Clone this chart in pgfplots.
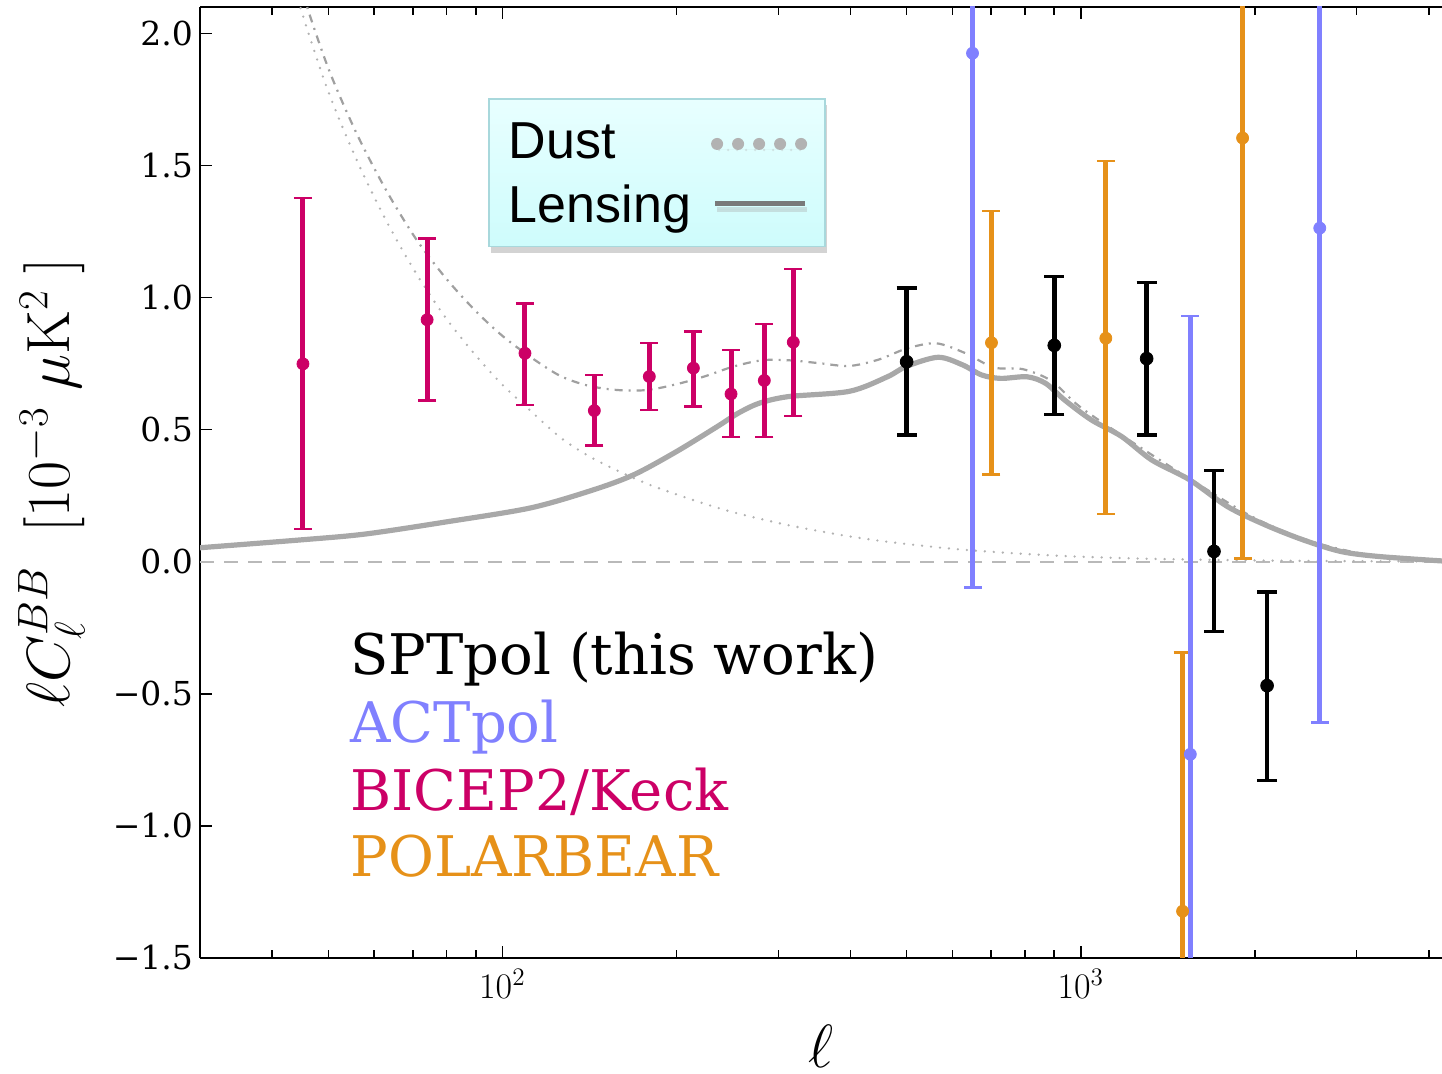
\RequirePackage{fix-cm}
\documentclass[border=0pt]{standalone}
\usepackage[no-math]{fontspec}
\setmainfont{DejaVu Serif}
\newfontfamily\legfont{Liberation Sans}
\usepackage{pgfplots}
\pgfplotsset{compat=1.18}
\usetikzlibrary{shadows}
\definecolor{bkmag}{RGB}{204,0,102}
\definecolor{actblue}{RGB}{128,128,255}
\definecolor{pborange}{RGB}{230,145,25}
\definecolor{lensgray}{RGB}{168,168,168}
\definecolor{dustgray}{RGB}{178,178,178}
\definecolor{sumgray}{RGB}{160,160,160}
\definecolor{zerogray}{RGB}{185,185,185}
\definecolor{legtop}{RGB}{232,255,255}
\definecolor{legbot}{RGB}{206,252,252}
\definecolor{legborder}{RGB}{168,216,220}

\begin{document}
\begin{tikzpicture}
\begin{axis}[
  scale only axis, width=621pt, height=475.5pt,
  xmode=log, xmin=30, xmax=4214, ymin=-1.5, ymax=2.1,
  axis x line*=box, axis y line*=left,
  axis line style={-, line width=1pt, black},
  tick align=inside,
  major tick length=6pt, minor tick length=4pt,
  tick style={black, line width=0.8pt},
  xtick={100,1000}, xticklabels={$10^{2}$,$10^{3}$},
  minor xtick={40,50,60,70,80,90,200,300,400,500,600,700,800,900,2000,3000,4000},
  ytick={-1.5,-1,-0.5,0,0.5,1,1.5,2},
  yticklabels={−1.5,−1.0,−0.5,0.0,0.5,1.0,1.5,2.0},
  yticklabel style={font=\fontsize{16.5}{18}\selectfont},
  xticklabel style={font=\fontsize{18}{20}\selectfont, yshift=-2pt},
  xlabel={$\ell$},
  ylabel={$\ell C_\ell^{BB}\;\;[10^{-3}\;\mu\mathrm{K}^2\;]$},
  label style={font=\fontsize{30.5}{34}\selectfont},
  xlabel style={at={(axis description cs:0.5,0)}, anchor=center, inner sep=0pt, yshift=-44pt},
  ylabel style={at={(axis description cs:-0.1196,0.5)}, anchor=center},
  legend plot pos=right,
  legend cell align=left,
  legend style={at={(rel axis cs:0.232,0.904)}, anchor=north west,
    draw=legborder, line width=0.8pt, top color=legtop, bottom color=legbot,
    drop shadow={shadow xshift=1pt, shadow yshift=-3pt, opacity=0.35},
    font=\legfont\fontsize{26}{30}\selectfont,
    inner xsep=8pt, inner ysep=10pt, row sep=9pt,
    nodes={text depth=0pt},
    /tikz/every odd column/.append style={column sep=8pt}},
]
% zero line
\addplot[forget plot, zerogray, line width=1pt, dash pattern=on 7pt off 5pt] coordinates {(30,0) (4214,0)};

% dust
\addplot[dustgray, line width=1.3pt, line cap=round, dash pattern=on 0pt off 4.5pt, smooth,
  legend image code/.code={\draw[dustgray, line width=6pt, line cap=round, dash pattern=on 0pt off 10.5pt] (3pt,-1.5pt) -- (46pt,-1.5pt);}]
coordinates {
(35,2.95) (40,2.46) (45,2.08) (50,1.78) (56,1.52) (63,1.29) (71,1.09) (80,0.92) (90,0.78)
(100,0.67) (112,0.57) (126,0.47) (141,0.40) (158,0.345) (178,0.295) (200,0.255) (224,0.219)
(251,0.187) (282,0.16) (316,0.136) (355,0.115) (398,0.096) (447,0.080) (500,0.067) (562,0.055)
(631,0.045) (708,0.037) (794,0.030) (891,0.024) (1000,0.019) (1259,0.012) (1585,0.008)
(2000,0.005) (2512,0.003) (3162,0.002) (4214,0.001)
};
\addlegendentry{Dust}

% dust + lensing
\addplot[forget plot, sumgray, line width=1.1pt, dash pattern=on 4pt off 3pt on 1pt off 3pt, smooth]
coordinates {
(40,2.55) (45,2.163) (50,1.868) (56,1.62) (63,1.405) (71,1.22) (80,1.071) (90,0.948) (100,0.855)
(112,0.774) (126,0.703) (141,0.666) (158,0.65) (178,0.65) (200,0.672) (224,0.702) (251,0.739)
(282,0.763) (316,0.762) (355,0.751) (398,0.741) (447,0.765) (500,0.807) (562,0.827) (631,0.79)
(708,0.735) (794,0.729) (891,0.684) (1000,0.584) (1259,0.437) (1585,0.298) (2000,0.165)
(2512,0.076) (3162,0.026) (4214,0.004)
};

% lensing
\addplot[lensgray, line width=2.6pt, smooth,
  legend image code/.code={\draw[gray!95!black, line width=2.6pt] (2pt,0pt) -- (47pt,0pt);}]
coordinates {
(30,0.053) (45,0.083) (58,0.105) (80.6,0.152) (112,0.204) (143.6,0.272) (169,0.33) (200,0.417)
(235,0.511) (256,0.563) (278,0.60) (312,0.625) (398,0.645) (463,0.70) (500,0.74) (567,0.774)
(625,0.745) (674,0.707) (727,0.694) (808,0.70) (870,0.675) (938,0.612) (1043,0.537) (1177,0.474)
(1327,0.385) (1543,0.31) (1793,0.209) (2082,0.14) (2422,0.083) (2814,0.039) (3270,0.02) (4214,0.003)
};
\addlegendentry{Lensing}

% BICEP2/Keck
\addplot[forget plot, only marks, mark=*, mark size=3pt, color=bkmag,
  error bars/.cd, y dir=both, y explicit,
  error bar style={line width=2.5pt, bkmag},
  error mark options={rotate=90, line width=1.2pt, mark size=4.5pt, bkmag}]
coordinates {
(45.2,0.749) += (0,0.629) -= (0,0.625)
(74.1,0.916) += (0,0.307) -= (0,0.306)
(109.4,0.789) += (0,0.189) -= (0,0.196)
(144.2,0.572) += (0,0.135) -= (0,0.132)
(179.5,0.701) += (0,0.128) -= (0,0.127)
(213.9,0.733) += (0,0.138) -= (0,0.146)
(248.5,0.635) += (0,0.166) -= (0,0.162)
(283.7,0.686) += (0,0.215) -= (0,0.213)
(318.4,0.831) += (0,0.278) -= (0,0.279)
};

% POLARBEAR
\addplot[forget plot, only marks, mark=*, mark size=3pt, color=pborange,
  error bars/.cd, y dir=both, y explicit,
  error bar style={line width=2.5pt, pborange},
  error mark options={rotate=90, line width=1.2pt, mark size=4.5pt, pborange}]
coordinates {
(701,0.829) += (0,0.498) -= (0,0.499)
(1105,0.846) += (0,0.671) -= (0,0.666)
(1500,-1.323) += (0,0.979) -= (0,0.979)
(1905,1.604) += (0,1.592) -= (0,1.592)
};

% ACTpol
\addplot[forget plot, only marks, mark=*, mark size=3pt, color=actblue,
  error bars/.cd, y dir=both, y explicit,
  error bar style={line width=2.5pt, actblue},
  error mark options={rotate=90, line width=1.2pt, mark size=4.5pt, actblue}]
coordinates {
(650,1.925) += (0,2.023) -= (0,2.023)
(1547,-0.729) += (0,1.659) -= (0,1.659)
(2590,1.263) += (0,1.872) -= (0,1.872)
};

% SPTpol
\addplot[forget plot, only marks, mark=*, mark size=3.2pt, color=black,
  error bars/.cd, y dir=both, y explicit,
  error bar style={line width=2.3pt, black},
  error mark options={rotate=90, line width=1.8pt, mark size=5pt, black}]
coordinates {
(500,0.757) += (0,0.280) -= (0,0.277)
(900,0.819) += (0,0.261) -= (0,0.261)
(1300,0.769) += (0,0.288) -= (0,0.289)
(1700,0.039) += (0,0.306) -= (0,0.303)
(2100,-0.469) += (0,0.354) -= (0,0.359)
};

\node[anchor=base west, inner sep=0pt, font=\fontsize{28}{33}\selectfont, text=black] at (rel axis cs:0.1208,0.2976) {SPTpol (this work)};
\node[anchor=base west, inner sep=0pt, font=\fontsize{28}{33}\selectfont, text=actblue] at (rel axis cs:0.1208,0.2261) {ACTpol};
\node[anchor=base west, inner sep=0pt, font=\fontsize{28}{33}\selectfont, text=bkmag] at (rel axis cs:0.1208,0.1549) {BICEP2/Keck};
\node[anchor=base west, inner sep=0pt, font=\fontsize{28}{33}\selectfont, text=pborange] at (rel axis cs:0.1208,0.0857) {POLARBEAR};
\end{axis}
\pgfresetboundingbox
\path[use as bounding box] ([xshift=-100pt,yshift=-58pt]current axis.south west) rectangle ([yshift=3.5pt]current axis.north east);
\end{tikzpicture}
\end{document}
